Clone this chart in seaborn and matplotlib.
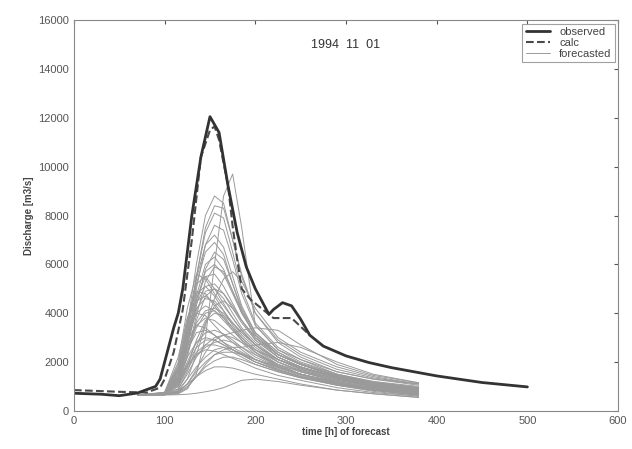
import numpy as np
import pandas as pd
import matplotlib
matplotlib.use("Agg")
import matplotlib.pyplot as plt
from matplotlib.lines import Line2D
import seaborn as sns

# observed discharge
obs_t = [0, 30, 50, 70, 90, 95, 100, 110, 115, 120, 130, 140, 150, 160, 170, 180, 190, 200,
         210, 215, 220, 230, 240, 250, 260, 275, 300, 325, 350, 400, 450, 500]
obs_q = [720, 680, 620, 730, 1000, 1300, 2000, 3400, 4000, 5000, 8000, 10400, 12050, 11400, 9200,
         7300, 5900, 5000, 4300, 3950, 4150, 4430, 4300, 3750, 3100, 2650, 2250, 1980, 1770,
         1430, 1160, 980]

# simulated (calc)
calc_t = [0, 50, 80, 95, 100, 110, 120, 130, 140, 150, 155, 160, 170, 175, 180, 185, 195,
          210, 220, 240, 250, 260]
calc_q = [850, 780, 750, 950, 1300, 2400, 4150, 7000, 10400, 11500, 11650, 11100, 9200, 7550,
          6200, 5000, 4550, 4100, 3800, 3800, 3450, 3100]

# forecast ensemble, all members on the same time steps
fc_t = [70, 100, 115, 125, 135, 145, 155, 165, 175, 185, 200, 225, 250, 290, 330, 380]
members = [
    [650, 700, 1500, 3500, 6000, 8000, 8800, 8500, 7000, 5500, 4000, 2800, 2200, 1600, 1300, 1050],
    [650, 680, 1200, 3000, 5500, 7500, 8400, 8300, 7000, 5600, 4000, 2900, 2300, 1700, 1350, 1100],
    [650, 700, 1400, 3200, 5500, 7300, 8100, 7900, 6500, 5000, 3600, 2600, 2100, 1500, 1200, 950],
    [650, 690, 1300, 2900, 5000, 6800, 7600, 7400, 6200, 4800, 3500, 2500, 2000, 1500, 1150, 900],
    [650, 720, 1800, 3600, 5400, 6800, 7200, 6700, 5500, 4300, 3200, 2400, 1900, 1400, 1100, 850],
    [650, 700, 1600, 3300, 5200, 6500, 6900, 6400, 5200, 4100, 3000, 2200, 1800, 1350, 1050, 800],
    [650, 680, 1200, 2600, 4300, 5800, 6500, 6200, 5200, 4200, 3200, 2300, 1900, 1400, 1100, 900],
    [650, 660, 700, 900, 1500, 3000, 6000, 8800, 9700, 7500, 3500, 2500, 2100, 1600, 1300, 1100],
    [650, 750, 2000, 4200, 5600, 5400, 4800, 4300, 3800, 3300, 2700, 2000, 1600, 1200, 950, 750],
    [650, 720, 1700, 3600, 5200, 5500, 5000, 4400, 3800, 3300, 2700, 2100, 1700, 1300, 1000, 800],
    [650, 700, 1300, 2800, 4400, 5100, 5200, 4800, 4200, 3600, 2900, 2200, 1800, 1350, 1050, 850],
    [650, 690, 1100, 2200, 3700, 4700, 5000, 4800, 4300, 3700, 3000, 2300, 1900, 1400, 1100, 900],
    [650, 760, 2200, 3800, 4500, 4700, 4400, 3900, 3400, 2900, 2400, 1800, 1500, 1100, 850, 650],
    [650, 700, 1500, 3000, 4000, 4300, 4100, 3700, 3300, 2900, 2400, 1900, 1500, 1150, 900, 700],
    [650, 660, 800, 1300, 2300, 3500, 4600, 5400, 5700, 5300, 4200, 3000, 2400, 1800, 1400, 1100],
    [650, 680, 1000, 1800, 2900, 3700, 4000, 3900, 3600, 3200, 2700, 2100, 1800, 1400, 1150, 950],
    [650, 700, 1400, 2600, 3500, 3800, 3700, 3400, 3100, 2800, 2300, 1800, 1500, 1150, 900, 700],
    [650, 660, 750, 1100, 1700, 2400, 2900, 3100, 3200, 3300, 3400, 3300, 2700, 1900, 1450, 1150],
    [650, 660, 720, 950, 1400, 1900, 2300, 2500, 2600, 2600, 2700, 2800, 2600, 2000, 1500, 1150],
    [650, 700, 1300, 2200, 2800, 3000, 2900, 2700, 2500, 2300, 2000, 1700, 1400, 1100, 850, 650],
    [650, 690, 1100, 1800, 2400, 2700, 2700, 2600, 2400, 2200, 1900, 1600, 1350, 1050, 850, 650],
    [650, 670, 850, 1300, 1800, 2200, 2500, 2600, 2500, 2350, 2100, 1800, 1500, 1200, 950, 750],
    [650, 700, 1200, 1900, 2300, 2500, 2450, 2300, 2150, 2000, 1750, 1450, 1250, 950, 750, 600],
    [650, 660, 750, 1000, 1400, 1800, 2050, 2200, 2200, 2100, 1900, 1600, 1350, 1050, 850, 700],
    [650, 650, 660, 680, 720, 780, 850, 950, 1100, 1250, 1300, 1200, 1050, 850, 700, 550],
    [650, 660, 800, 1100, 1400, 1650, 1800, 1800, 1750, 1650, 1500, 1300, 1100, 850, 700, 550],
    [650, 700, 1150, 2000, 2800, 3200, 3300, 3150, 2900, 2600, 2200, 1800, 1500, 1150, 900, 750],
    [650, 700, 1300, 2800, 4500, 5700, 6000, 5600, 4800, 4000, 3100, 2300, 1900, 1450, 1150, 950],
    [650, 670, 900, 1600, 2600, 3600, 4300, 4500, 4200, 3700, 3000, 2300, 1900, 1450, 1150, 950],
    [650, 720, 1700, 2900, 3500, 3400, 3100, 2800, 2500, 2300, 2000, 1650, 1400, 1100, 850, 700],
    [650, 740, 1900, 3800, 4900, 4800, 4300, 3800, 3300, 2900, 2400, 1850, 1500, 1150, 900, 700],
    [650, 710, 1600, 3100, 4200, 4600, 4500, 4100, 3600, 3100, 2600, 2000, 1650, 1250, 1000, 800],
    [650, 700, 1400, 2600, 3600, 4100, 4200, 4000, 3600, 3200, 2700, 2100, 1750, 1350, 1050, 850],
    [650, 730, 1800, 3300, 4000, 3900, 3500, 3100, 2800, 2500, 2100, 1700, 1400, 1100, 850, 650],
    [650, 690, 1200, 2400, 3400, 4000, 4100, 3800, 3400, 3000, 2500, 2000, 1650, 1300, 1000, 800],
    [650, 700, 1350, 2900, 4700, 6000, 6300, 5800, 4900, 4000, 3100, 2300, 1900, 1450, 1150, 950],
    [650, 680, 1100, 2300, 3900, 5300, 5900, 5700, 4900, 4100, 3200, 2400, 1950, 1500, 1200, 1000],
    [650, 700, 1300, 2500, 3200, 3300, 3100, 2800, 2600, 2400, 2100, 1750, 1450, 1100, 850, 650],
    [650, 680, 1000, 1700, 2300, 2600, 2800, 2900, 2800, 2600, 2300, 1900, 1600, 1250, 1000, 800],
    [650, 720, 1700, 3500, 4800, 5100, 4700, 4100, 3500, 3000, 2500, 1900, 1600, 1200, 950, 750],
    [650, 670, 900, 1500, 2200, 2700, 3000, 3100, 3000, 2800, 2500, 2100, 1750, 1350, 1050, 850],
    [650, 700, 1250, 2700, 4100, 4900, 5000, 4600, 4000, 3400, 2800, 2100, 1700, 1300, 1000, 800],
    [650, 690, 1050, 1900, 2600, 2900, 2900, 2700, 2500, 2300, 2000, 1650, 1400, 1050, 800, 600],
    [650, 660, 780, 1100, 1600, 2000, 2300, 2400, 2400, 2300, 2100, 1800, 1500, 1150, 900, 700],
    [650, 710, 1500, 3100, 4600, 5500, 5600, 5100, 4400, 3700, 2900, 2200, 1800, 1350, 1050, 850],
]

rows = []
for i, m in enumerate(members):
    for t, q in zip(fc_t, m):
        rows.append((i, t, q))
fc = pd.DataFrame(rows, columns=["member", "t", "q"])

sns.set_style("white")
plt.rcParams["font.family"] = ["Liberation Sans", "DejaVu Sans"]

fig, ax = plt.subplots(figsize=(6.32, 4.49), dpi=100)
fig.subplots_adjust(left=0.117, right=0.978, bottom=0.085, top=0.955)

sns.lineplot(data=fc, x="t", y="q", units="member", estimator=None,
             color="#9a9a9a", linewidth=0.7, ax=ax, legend=False)
sns.lineplot(x=calc_t, y=calc_q, color="#4a4a4a", linewidth=1.5,
             linestyle="--", ax=ax)
sns.lineplot(x=obs_t, y=obs_q, color="#333333", linewidth=2.0, ax=ax)

ax.set_xlim(0, 600)
ax.set_ylim(0, 16000)
ax.set_xticks(range(0, 601, 100))
ax.set_yticks(range(0, 16001, 2000))
ax.tick_params(direction="in", top=True, right=True, labelsize=8,
               colors="#555555", length=3)
for s in ax.spines.values():
    s.set_color("#888888")
    s.set_linewidth(0.8)

ax.set_xlabel("time [h] of forecast", fontsize=7, fontweight="bold",
              color="#444444", labelpad=1)
ax.set_ylabel("Discharge [m3/s]", fontsize=7, fontweight="bold",
              color="#444444", labelpad=3)
ax.text(300, 15000, "1994  11  01", ha="center", va="center", fontsize=9,
        color="#333333")

handles = [Line2D([], [], color="#333333", linewidth=2.0),
           Line2D([], [], color="#4a4a4a", linewidth=1.5, linestyle="--"),
           Line2D([], [], color="#9a9a9a", linewidth=0.7)]
leg = ax.legend(handles, ["observed", "calc", "forecasted"], loc="upper right",
                fontsize=8, frameon=True, fancybox=False, borderaxespad=0.3,
                handlelength=2.2, labelspacing=0.1, borderpad=0.3)
leg.get_frame().set_edgecolor("#888888")
leg.get_frame().set_linewidth(0.8)
for txt in leg.get_texts():
    txt.set_color("#444444")

fig.savefig("out.png", dpi=100)
